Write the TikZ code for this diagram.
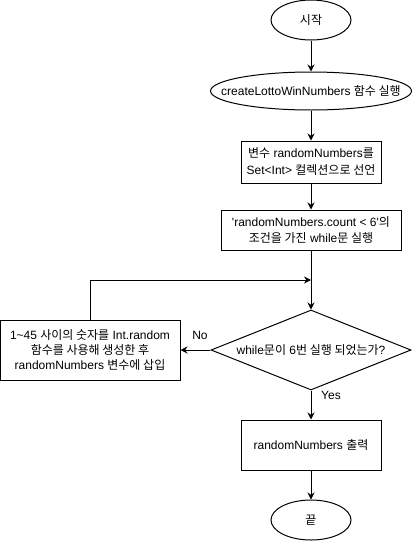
\documentclass[tikz,border=0pt]{standalone}
\usepackage{fontspec}
\setmainfont{Liberation Sans}
\newfontfamily\krfont{Noto Sans CJK KR}
\newcommand{\ko}[1]{{\krfont #1}}
\usetikzlibrary{shapes.geometric,arrows.meta}
\tikzset{
    terminal/.style={draw, ellipse, line width=1pt, inner sep=0pt},
    procbox/.style={draw, rectangle, line width=1pt, align=center, inner sep=0pt},
    decision/.style={draw, diamond, line width=1pt, inner sep=0pt},
    flow/.style={line width=1pt, -{Stealth[length=7pt, width=7pt]}},
    edgelabel/.style={inner sep=0pt}
}
\begin{document}
\begin{tikzpicture}[x=1pt, y=-1pt, font=\fontsize{12}{15}\selectfont]
    \useasboundingbox[fill=white] (0,0) rectangle (412,541);
    \node[terminal, minimum width=80, minimum height=40] (start) at (311,20) {\ko{시작}};
    \node[terminal, minimum width=201, minimum height=38] (create) at (311,91)
        {\makebox[0pt]{createLottoWinNumbers \ko{함수 실행}}};
    \node[procbox, minimum width=140, minimum height=42] (declare) at (311,162)
        {\ko{변수} randomNumbers\ko{를}\\[2pt] Set<Int> \ko{컬렉션으로 선언}};
    \node[procbox, minimum width=180, minimum height=40] (loop) at (311,230)
        {\textquotesingle randomNumbers.count < 6\textquotesingle\ko{의}\\[1pt] \ko{조건을 가진} while\ko{문 실행}};
    \coordinate (merge) at (311,280);
    \node[decision, minimum width=200, minimum height=80] (check) at (311,350)
        {\makebox[0pt]{while\ko{문이} 6\ko{번 실행 되었는가}?}};
    \node[procbox, minimum width=180, minimum height=60] (insert) at (90,350)
        {1\textasciitilde45 \ko{사이의 숫자를} Int.random\\ \ko{함수를 사용해 생성한 후}\\ randomNumbers \ko{변수에 삽입}};
    \node[procbox, minimum width=140, minimum height=50] (print) at (311,445)
        {randomNumbers \ko{출력}};
    \node[terminal, minimum width=80, minimum height=40] (finish) at (311,520) {\ko{끝}};
    \draw[flow] (start) -- (create);
    \draw[flow] (create) -- (declare);
    \draw[flow] (declare) -- (loop);
    \draw[line width=1pt] (loop) -- (merge);
    \draw[flow] (merge) -- (check);
    \draw[flow] (check) -- (insert);
    \draw[flow] (insert.north) |- (merge);
    \draw[flow] (check) -- (print);
    \draw[flow] (print) -- (finish);
    \node[edgelabel] (no) at (200,335) {No};
    \node[edgelabel] (yes) at (331,395) {Yes};
\end{tikzpicture}
\end{document}
